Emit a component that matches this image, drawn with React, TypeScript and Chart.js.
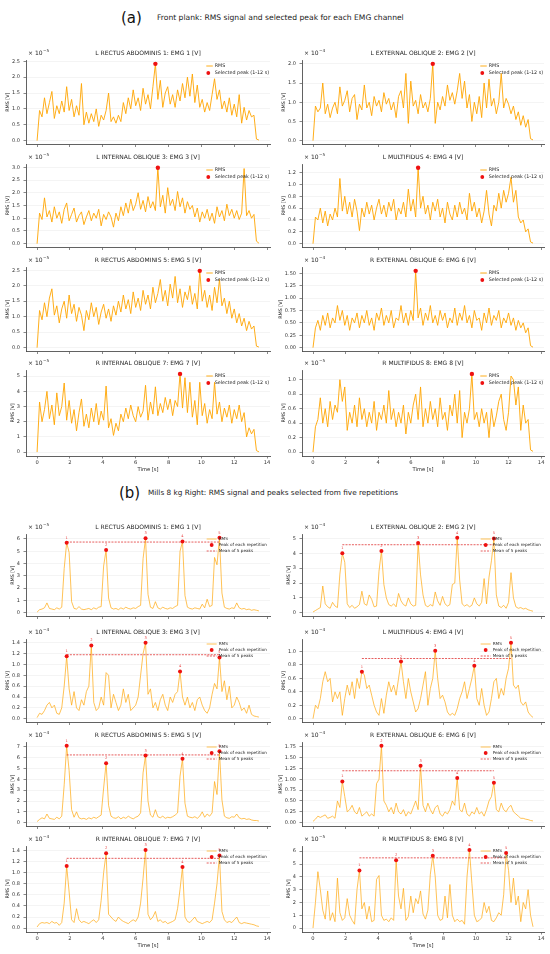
import { useEffect, useRef } from "react";
import { Chart, registerables } from "chart.js";
Chart.register(...registerables);

const FONT = "'DejaVu Sans', sans-serif";
const AX = "#3a3a3a";

// shared time axis of every trace [s]
const TIME = [
  0, 0.15, 0.3, 0.45, 0.6, 0.75, 0.9, 1.05, 1.2, 1.35,
  1.5, 1.65, 1.8, 1.95, 2.1, 2.25, 2.4, 2.55, 2.7, 2.85,
  3, 3.15, 3.3, 3.45, 3.6, 3.75, 3.9, 4.05, 4.2, 4.35,
  4.5, 4.65, 4.8, 4.95, 5.1, 5.25, 5.4, 5.55, 5.7, 5.85,
  6, 6.15, 6.3, 6.45, 6.6, 6.75, 6.9, 7.05, 7.2, 7.35,
  7.5, 7.65, 7.8, 7.95, 8.1, 8.25, 8.4, 8.55, 8.7, 8.85,
  9, 9.15, 9.3, 9.45, 9.6, 9.75, 9.9, 10.05, 10.2, 10.35,
  10.5, 10.65, 10.8, 10.95, 11.1, 11.25, 11.4, 11.55, 11.7, 11.85,
  12, 12.15, 12.3, 12.45, 12.6, 12.75, 12.9, 13.05, 13.2, 13.35,
  13.5,
];
const X_TICKS = [0, 2, 4, 6, 8, 10, 12, 14];

const CHANNELS = [
  "L RECTUS ABDOMINIS 1: EMG 1 [V]",
  "L EXTERNAL OBLIQUE 2: EMG 2 [V]",
  "L INTERNAL OBLIQUE 3: EMG 3 [V]",
  "L MULTIFIDUS 4: EMG 4 [V]",
  "R RECTUS ABDOMINIS 5: EMG 5 [V]",
  "R EXTERNAL OBLIQUE 6: EMG 6 [V]",
  "R INTERNAL OBLIQUE 7: EMG 7 [V]",
  "R MULTIFIDUS 8: EMG 8 [V]",
];

// ---- (a) front plank, values in units of 10^exp V
const A_EXP = [-5, -4, -5, -5, -5, -4, -5, -5];
const A_EMG1 = [
  0.00, 0.95, 0.75, 1.35, 0.85, 1.20, 1.55, 0.70, 1.10, 0.85,
  1.25, 0.90, 1.70, 0.95, 1.30, 0.75, 1.10, 0.80, 1.80, 0.50,
  0.90, 0.55, 0.85, 0.60, 1.00, 0.45, 0.80, 0.65, 0.95, 1.50,
  0.60, 0.75, 0.55, 0.80, 0.60, 1.20, 0.85, 1.35, 1.00, 1.60,
  1.10, 1.35, 0.95, 1.65, 1.15, 1.45, 1.00, 1.70, 2.42, 1.30,
  1.90, 1.05, 1.50, 1.70, 1.15, 1.45, 1.05, 1.60, 1.25, 1.80,
  1.35, 2.00, 1.40, 2.10, 1.20, 1.75, 1.05, 1.30, 0.90, 1.20,
  0.95, 1.45, 1.95, 1.30, 1.60, 1.00, 1.25, 0.90, 1.35, 0.80,
  1.15, 0.75, 1.45, 0.55, 1.05, 0.65, 0.95, 0.75, 0.80, 0.05,
  0.02,
];
const A_EMG2 = [
  0.00, 0.90, 0.75, 0.85, 1.50, 0.70, 0.95, 0.60, 0.85, 1.00,
  0.70, 1.40, 0.90, 1.05, 1.30, 0.75, 1.10, 1.20, 0.55, 0.95,
  0.80, 1.45, 0.85, 1.00, 0.65, 1.15, 0.90, 1.05, 0.75, 1.25,
  0.95, 1.10, 0.80, 1.00, 0.60, 1.15, 1.30, 0.85, 1.75, 0.45,
  1.55, 0.90, 1.05, 0.70, 1.20, 0.85, 1.00, 0.75, 1.10, 2.00,
  0.45, 1.00, 0.80, 1.15, 0.90, 1.45, 1.05, 1.25, 0.95, 1.30,
  1.75, 1.10, 1.55, 0.85, 1.20, 0.50, 1.00, 0.70, 1.15, 0.60,
  1.50, 0.85, 1.60, 0.90, 1.10, 0.70, 1.00, 1.75, 0.85, 1.10,
  0.95, 0.70, 0.90, 0.55, 0.75, 0.40, 0.65, 0.35, 0.55, 0.05,
  0.02,
];
const A_EMG3 = [
  0.00, 1.20, 0.95, 1.80, 1.05, 1.30, 0.85, 1.45, 1.00, 1.25,
  0.80, 1.35, 1.60, 0.90, 1.15, 1.40, 0.85, 1.10, 1.25, 0.75,
  1.05, 1.30, 0.90, 1.20, 1.00, 1.35, 0.70, 1.15, 0.95, 1.25,
  1.05, 0.65, 1.20, 0.90, 1.45, 1.10, 1.60, 1.20, 1.75, 1.30,
  1.55, 2.00, 1.35, 1.70, 1.25, 1.85, 1.40, 1.65, 1.30, 2.98,
  1.45, 1.90, 1.20, 2.20, 1.50, 1.75, 1.30, 2.05, 1.45, 1.80,
  1.20, 1.65, 1.35, 1.50, 1.05, 1.40, 0.85, 1.25, 1.00, 1.35,
  0.90, 1.20, 0.80, 1.45, 1.05, 1.30, 0.90, 1.55, 1.10, 1.35,
  1.00, 1.30, 0.95, 1.20, 2.95, 1.10, 1.30, 1.00, 1.15, 0.10,
  0.02,
];
const A_EMG4 = [
  0.00, 0.45, 0.40, 0.60, 0.35, 0.55, 0.30, 0.50, 0.40, 0.60,
  0.45, 1.10, 0.55, 0.80, 0.50, 0.70, 0.45, 0.75, 0.55, 0.22,
  0.60, 0.45, 0.70, 0.50, 0.65, 0.40, 0.60, 0.75, 0.50, 0.65,
  0.45, 0.70, 0.55, 0.75, 0.40, 0.60, 0.50, 0.70, 0.45, 0.92,
  0.55, 0.75, 0.45, 1.28, 0.60, 0.80, 0.50, 0.65, 0.40, 0.70,
  0.55, 0.75, 0.45, 0.60, 0.35, 0.70, 0.50, 0.40, 0.65, 0.45,
  0.70, 0.50, 0.60, 0.40, 0.85, 0.55, 0.70, 0.45, 0.60, 0.35,
  0.55, 0.90, 0.50, 0.30, 0.65, 0.55, 0.85, 0.60, 0.90, 0.70,
  0.85, 1.12, 0.70, 0.90, 0.45, 0.35, 0.40, 0.20, 0.25, 0.03,
  0.01,
];
const A_EMG5 = [
  0.00, 1.20, 0.90, 1.45, 1.00, 1.60, 1.90, 1.05, 1.35, 0.80,
  1.25, 1.50, 0.95, 1.70, 1.10, 1.40, 0.85, 1.30, 1.05, 0.55,
  1.20, 0.90, 1.45, 1.00, 1.30, 0.75, 1.15, 1.40, 0.95, 1.25,
  0.85, 1.35, 1.05, 1.50, 1.15, 1.70, 1.25, 1.55, 1.10, 1.80,
  1.30, 1.60, 1.20, 1.85, 1.40, 1.70, 1.25, 1.95, 1.45, 1.75,
  2.20, 1.50, 1.85, 1.35, 2.05, 1.60, 2.30, 1.45, 1.90, 1.30,
  1.80, 1.55, 2.00, 1.40, 1.75, 1.25, 2.48, 1.50, 1.85, 1.30,
  1.70, 1.20, 1.95, 1.45, 2.20, 1.35, 1.60, 1.10, 1.50, 0.95,
  1.25, 0.80, 1.10, 0.70, 0.95, 0.55, 0.85, 0.60, 0.70, 0.05,
  0.02,
];
const A_EMG6 = [
  0.00, 0.40, 0.55, 0.35, 0.65, 0.45, 0.70, 0.40, 0.60, 0.50,
  0.85, 0.55, 0.75, 0.45, 0.65, 0.35, 0.60, 0.50, 0.70, 0.40,
  0.65, 0.50, 0.75, 0.45, 0.60, 0.35, 0.70, 0.55, 0.80, 0.45,
  0.65, 0.50, 0.75, 0.40, 0.60, 0.55, 0.85, 0.50, 0.70, 0.45,
  0.75, 0.55, 1.55, 0.60, 0.80, 0.45, 0.70, 0.55, 0.85, 0.50,
  0.65, 0.45, 0.75, 0.55, 0.70, 0.40, 0.60, 0.50, 0.80, 0.45,
  0.70, 0.55, 0.85, 0.50, 0.65, 0.40, 0.75, 0.55, 0.60, 0.35,
  0.70, 0.50, 0.80, 0.45, 0.65, 0.55, 0.75, 0.40, 0.60, 0.50,
  0.70, 0.45, 0.60, 0.35, 0.55, 0.40, 0.50, 0.30, 0.40, 0.04,
  0.01,
];
const A_EMG7 = [
  0.00, 3.30, 2.00, 2.80, 4.00, 2.20, 3.10, 1.80, 3.90, 2.40,
  3.00, 4.55, 2.10, 3.40, 1.90, 2.80, 1.40, 2.60, 3.50, 1.70,
  2.50, 1.60, 2.90, 2.00, 3.20, 1.80, 2.70, 2.10, 4.35, 1.60,
  2.20, 1.10, 1.90, 1.40, 2.50, 2.00, 2.90, 2.20, 3.10, 2.40,
  2.00, 3.00, 2.30, 2.70, 4.40, 2.10, 3.30, 2.50, 4.30, 2.40,
  3.20, 2.60, 3.60, 2.80, 3.50, 2.40, 3.40, 3.00, 5.15, 2.90,
  4.90, 2.60, 4.60, 2.30, 3.40, 1.80, 4.60, 2.40, 3.20, 1.90,
  2.80, 2.20, 4.60, 2.50, 3.30, 2.00, 2.90, 2.30, 3.10, 1.90,
  2.80, 2.20, 3.10, 2.00, 2.60, 1.00, 1.60, 1.20, 1.50, 0.10,
  0.02,
];
const A_EMG8 = [
  0.00, 0.35, 0.45, 0.75, 0.40, 0.60, 0.35, 0.70, 0.45, 0.65,
  0.55, 1.00, 0.70, 0.90, 0.30, 0.55, 0.40, 0.65, 0.35, 0.75,
  0.45, 0.60, 0.35, 0.55, 0.40, 0.70, 0.30, 0.55, 0.45, 0.65,
  0.40, 0.85, 0.45, 0.60, 0.35, 0.55, 0.40, 0.65, 0.25, 0.55,
  0.40, 0.65, 0.80, 0.45, 0.90, 0.35, 0.60, 0.40, 0.70, 0.45,
  0.60, 0.35, 0.75, 0.45, 0.55, 0.30, 0.65, 0.50, 0.80, 0.40,
  0.85, 0.20, 0.55, 0.40, 0.60, 1.08, 0.45, 0.55, 0.35, 0.60,
  0.40, 0.55, 0.20, 0.60, 0.35, 0.50, 0.70, 0.80, 0.45, 0.30,
  0.55, 1.05, 1.00, 0.65, 0.90, 0.30, 0.65, 0.40, 0.45, 0.03,
  0.01,
];
const A_PEAK_T = [7.2, 7.35, 7.35, 6.45, 9.9, 6.3, 8.7, 9.75];
const A_PEAK_V = [2.42, 2.0, 2.98, 1.28, 2.48, 1.55, 5.15, 1.08];
const A_YTICKS = [
  [0, 0.5, 1, 1.5, 2, 2.5],
  [0, 0.5, 1, 1.5, 2],
  [0, 0.5, 1, 1.5, 2, 2.5, 3],
  [0, 0.2, 0.4, 0.6, 0.8, 1, 1.2],
  [0, 0.5, 1, 1.5, 2, 2.5],
  [0, 0.25, 0.5, 0.75, 1, 1.25, 1.5],
  [0, 1, 2, 3, 4, 5],
  [0, 0.2, 0.4, 0.6, 0.8, 1],
];
const A_YDEC = [1, 1, 1, 1, 1, 2, 0, 1];

// ---- (b) Mills 8 kg right
const B_EXP = [-5, -4, -4, -4, -4, -4, -4, -5];
const B_EMG1 = [
  0.05, 0.25, 0.30, 0.40, 0.80, 0.35, 0.30, 0.25, 0.40, 0.30,
  0.45, 3.60, 5.70, 4.90, 0.90, 0.35, 0.30, 0.50, 0.30, 0.25,
  0.30, 0.35, 0.25, 0.40, 0.30, 0.45, 0.50, 3.80, 5.10, 1.20,
  0.40, 0.30, 0.35, 0.25, 0.40, 0.30, 0.45, 0.35, 0.30, 0.40,
  0.35, 0.50, 0.60, 4.40, 6.05, 1.50, 0.45, 0.35, 0.90, 0.40,
  0.30, 0.45, 0.35, 0.30, 0.40, 0.35, 0.50, 0.60, 5.00, 5.80,
  1.40, 0.45, 0.35, 0.30, 0.40, 0.35, 0.30, 0.70, 0.40, 1.10,
  0.50, 0.60, 4.50, 3.90, 6.10, 1.60, 0.45, 0.35, 0.30, 0.40,
  0.35, 0.80, 0.40, 0.30, 0.35, 0.25, 0.30, 0.20, 0.25, 0.20,
  0.15,
];
const B_EMG2 = [
  0.05, 0.15, 0.25, 0.35, 1.80, 0.60, 0.40, 0.30, 0.70, 0.45,
  0.35, 2.60, 4.00, 3.40, 0.60, 0.35, 0.50, 0.30, 0.40, 0.55,
  1.45, 0.60, 0.50, 1.20, 0.90, 0.40, 0.45, 2.80, 4.15, 1.90,
  1.00, 0.55, 0.45, 0.60, 0.40, 1.30, 0.80, 0.55, 0.45, 1.00,
  0.60, 0.45, 0.50, 4.70, 2.55, 1.20, 0.50, 0.40, 0.55, 0.45,
  1.40, 0.80, 0.50, 1.10, 0.60, 0.45, 0.55, 1.90, 2.00, 5.05,
  2.20, 0.60, 0.45, 0.55, 0.40, 0.50, 1.00, 0.60, 0.45, 0.70,
  2.30, 0.60, 2.40, 3.50, 5.00, 1.20, 0.45, 0.35, 0.50, 0.30,
  0.70, 2.70, 1.00, 0.40, 0.30, 0.35, 0.25, 0.30, 0.20, 0.15,
  0.10,
];
const B_EMG3 = [
  0.02, 0.10, 0.08, 0.15, 0.25, 0.30, 0.20, 0.25, 0.10, 0.08,
  0.20, 0.60, 1.15, 0.55, 0.25, 0.50, 0.20, 0.15, 0.35, 0.25,
  0.50, 0.60, 1.35, 0.30, 0.15, 0.20, 0.40, 0.25, 0.85, 0.80,
  0.20, 0.45, 0.30, 0.15, 0.25, 0.55, 0.30, 0.45, 0.15, 0.20,
  0.25, 0.40, 0.80, 1.20, 1.40, 0.45, 0.55, 0.20, 0.30, 0.15,
  0.35, 0.45, 0.25, 0.15, 0.40, 0.30, 0.45, 0.50, 0.87, 0.40,
  0.25, 0.40, 0.20, 0.30, 0.15, 0.35, 0.40, 0.25, 0.15, 0.10,
  0.20, 0.45, 0.65, 0.55, 1.13, 0.50, 0.70, 0.35, 0.60, 0.20,
  0.25, 0.40, 0.30, 0.15, 0.20, 0.10, 0.25, 0.08, 0.05, 0.04,
  0.03,
];
const B_EMG4 = [
  0.00, 0.20, 0.15, 0.30, 0.55, 0.70, 0.55, 0.60, 0.25, 0.40,
  0.30, 0.40, 0.05, 0.30, 0.50, 0.35, 0.55, 0.30, 0.60, 0.45,
  0.70, 0.65, 0.45, 0.50, 0.35, 0.20, 0.10, 0.05, 0.30, 0.08,
  0.35, 0.55, 0.40, 0.50, 0.35, 0.60, 0.85, 0.55, 0.30, 0.60,
  0.40, 0.25, 0.10, 0.15, 0.30, 0.50, 0.70, 0.20, 0.45, 0.60,
  1.01, 0.60, 0.30, 0.35, 0.25, 0.10, 0.05, 0.08, 0.05, 0.15,
  0.30, 0.40, 0.55, 0.30, 0.45, 0.60, 0.79, 0.30, 0.20, 0.45,
  0.20, 0.05, 0.10, 0.30, 0.55, 0.60, 0.30, 0.45, 0.35, 0.60,
  0.75, 1.13, 0.50, 0.45, 0.50, 0.25, 0.20, 0.25, 0.10, 0.05,
  0.02,
];
const B_EMG5 = [
  0.10, 0.30, 0.45, 0.35, 0.80, 0.40, 0.35, 0.30, 0.50, 0.35,
  0.60, 3.50, 7.10, 4.80, 1.20, 0.50, 1.00, 0.45, 0.35, 0.40,
  0.30, 0.45, 0.35, 0.50, 0.40, 0.55, 0.70, 3.20, 5.50, 1.60,
  0.60, 0.45, 0.40, 0.55, 0.35, 0.50, 0.40, 0.60, 0.45, 0.35,
  0.50, 0.60, 0.90, 4.60, 6.20, 2.00, 0.70, 0.50, 1.20, 0.55,
  0.45, 0.60, 0.40, 0.50, 0.45, 0.55, 0.70, 0.90, 4.30, 5.90,
  1.80, 0.60, 0.50, 0.45, 0.55, 0.40, 0.60, 1.00, 0.50, 0.80,
  0.60, 0.90, 3.80, 2.60, 6.60, 2.10, 0.60, 0.45, 0.40, 0.55,
  0.50, 0.80, 0.45, 0.35, 0.40, 0.30, 0.35, 0.25, 0.20, 0.20,
  0.15,
];
const B_EMG6 = [
  0.03, 0.08, 0.15, 0.12, 0.15, 0.18, 0.10, 0.12, 0.15, 0.10,
  0.50, 0.35, 0.95, 0.60, 0.25, 0.30, 0.40, 0.25, 0.20, 0.35,
  0.15, 0.20, 0.25, 0.15, 0.20, 0.15, 0.90, 1.00, 1.77, 0.50,
  0.40, 0.25, 0.35, 0.20, 0.45, 0.25, 0.20, 0.30, 0.15, 0.25,
  0.20, 0.35, 0.50, 0.30, 1.31, 0.40, 0.25, 0.45, 0.30, 0.20,
  0.35, 0.40, 0.20, 0.15, 0.25, 0.20, 0.30, 0.50, 0.40, 1.03,
  0.30, 0.25, 0.45, 0.20, 0.15, 0.25, 0.20, 0.35, 0.20, 0.25,
  0.15, 0.30, 0.50, 0.60, 0.92, 0.30, 0.25, 0.45, 0.30, 0.25,
  0.35, 0.40, 0.25, 0.20, 0.15, 0.10, 0.10, 0.08, 0.07, 0.05,
  0.04,
];
const B_EMG7 = [
  0.02, 0.08, 0.10, 0.09, 0.10, 0.08, 0.12, 0.09, 0.10, 0.05,
  0.10, 0.45, 1.12, 0.65, 0.15, 0.10, 0.35, 0.15, 0.10, 0.12,
  0.10, 0.08, 0.12, 0.15, 0.10, 0.15, 0.50, 1.00, 1.35, 0.25,
  0.20, 0.15, 0.12, 0.20, 0.15, 0.12, 0.10, 0.08, 0.12, 0.15,
  0.12, 0.20, 0.45, 0.90, 1.41, 0.25, 0.15, 0.20, 0.30, 0.12,
  0.15, 0.10, 0.12, 0.08, 0.10, 0.12, 0.15, 0.35, 0.70, 1.10,
  0.20, 0.12, 0.10, 0.15, 0.20, 0.12, 0.10, 0.08, 0.10, 0.12,
  0.10, 0.15, 0.45, 0.80, 1.31, 0.30, 0.15, 0.10, 0.12, 0.10,
  0.15, 0.20, 0.10, 0.08, 0.10, 0.09, 0.08, 0.07, 0.06, 0.04,
  0.03,
];
const B_EMG8 = [
  0.00, 2.00, 4.40, 3.00, 1.40, 0.70, 2.90, 0.60, 1.20, 0.50,
  3.90, 1.20, 0.60, 0.80, 2.30, 1.00, 0.60, 0.30, 3.00, 4.50,
  1.50, 2.00, 0.70, 1.70, 0.50, 0.60, 3.80, 4.10, 1.00, 0.60,
  0.70, 0.50, 0.80, 0.60, 5.30, 2.50, 1.50, 3.10, 0.60, 0.90,
  2.50, 1.20, 2.30, 1.90, 2.90, 1.10, 0.70, 1.40, 4.20, 5.65,
  4.00, 1.00, 0.60, 0.70, 2.50, 0.80, 3.40, 1.00, 0.50, 0.70,
  0.50, 0.60, 0.30, 4.00, 6.10, 3.50, 1.00, 0.50, 0.60, 0.80,
  2.00, 1.20, 1.70, 0.60, 0.50, 0.80, 1.20, 1.00, 2.60, 5.85,
  4.50, 2.00, 3.90, 1.80, 2.50, 0.50, 2.00, 1.50, 3.00, 1.00,
  0.10,
];
const B_PEAK_T = [
  [1.8, 4.2, 6.6, 8.85, 11.1],
  [1.8, 4.2, 6.45, 8.85, 11.1],
  [1.8, 3.3, 6.6, 8.7, 11.1],
  [3.0, 5.4, 7.5, 9.9, 12.15],
  [1.8, 4.2, 6.6, 8.85, 11.1],
  [1.8, 4.2, 6.6, 8.85, 11.1],
  [1.8, 4.2, 6.6, 8.85, 11.1],
  [2.85, 5.1, 7.35, 9.6, 11.85],
];
const B_PEAK_V = [
  [5.7, 5.1, 6.05, 5.8, 6.1],
  [4.0, 4.15, 4.7, 5.05, 5.0],
  [1.15, 1.35, 1.4, 0.87, 1.13],
  [0.7, 0.85, 1.01, 0.79, 1.13],
  [7.1, 5.5, 6.2, 5.9, 6.6],
  [0.95, 1.77, 1.31, 1.03, 0.92],
  [1.12, 1.35, 1.41, 1.1, 1.31],
  [4.5, 5.3, 5.65, 6.1, 5.85],
];
const B_YTICKS = [
  [0, 1, 2, 3, 4, 5, 6],
  [0, 1, 2, 3, 4, 5],
  [0, 0.2, 0.4, 0.6, 0.8, 1, 1.2, 1.4],
  [0, 0.2, 0.4, 0.6, 0.8, 1],
  [0, 1, 2, 3, 4, 5, 6, 7],
  [0, 0.25, 0.5, 0.75, 1, 1.25, 1.5, 1.75],
  [0, 0.2, 0.4, 0.6, 0.8, 1, 1.2, 1.4],
  [0, 1, 2, 3, 4, 5, 6],
];
const B_YDEC = [0, 0, 1, 1, 0, 2, 1, 0];

// plot-area rows in page pixels
const ROWS: any = {
  a: { top: [60, 164, 267, 370], bottom: [146, 249, 353, 456] },
  b: { top: [534, 639, 742, 846], bottom: [618, 724, 828, 932] },
};
const PAD_TOP = 12;

type Spec = {
  id: string;
  panel: "a" | "b";
  ch: number;
  values: number[];
  peakT: number[];
  peakV: number[];
  exp: number;
  yTicks: number[];
  yDec: number;
};

const A_SERIES = [A_EMG1, A_EMG2, A_EMG3, A_EMG4, A_EMG5, A_EMG6, A_EMG7, A_EMG8];
const B_SERIES = [B_EMG1, B_EMG2, B_EMG3, B_EMG4, B_EMG5, B_EMG6, B_EMG7, B_EMG8];

const SPECS: Spec[] = [
  ...A_SERIES.map((values, i) => ({
    id: "a" + i, panel: "a" as const, ch: i, values,
    peakT: [A_PEAK_T[i]], peakV: [A_PEAK_V[i]],
    exp: A_EXP[i], yTicks: A_YTICKS[i], yDec: A_YDEC[i],
  })),
  ...B_SERIES.map((values, i) => ({
    id: "b" + i, panel: "b" as const, ch: i, values,
    peakT: B_PEAK_T[i], peakV: B_PEAK_V[i],
    exp: B_EXP[i], yTicks: B_YTICKS[i], yDec: B_YDEC[i],
  })),
];

function boxOf(s: Spec) {
  const row = Math.floor(s.ch / 2);
  const col = s.ch % 2;
  const top = ROWS[s.panel].top[row];
  const bottom = ROWS[s.panel].bottom[row];
  const last = row === 3;
  const xH = last ? 17 : 4;
  return {
    col, last, xH,
    left: col ? 275 : 0,
    top: top - PAD_TOP,
    h: bottom - top + PAD_TOP + xH + 1,
    yW: col ? 27 : 26,
    padR: col ? 6 : 5,
  };
}

const decor = {
  id: "decor",
  afterDatasetsDraw(chart: any, _args: any, o: any) {
    const { ctx, chartArea: a, scales } = chart;
    ctx.save();
    ctx.fillStyle = "#262626";
    ctx.textBaseline = "middle";
    ctx.textAlign = "center";
    ctx.font = `6px ${FONT}`;
    ctx.fillText(o.title, (a.left + a.right) / 2, a.top - 6.5);

    // axis multiplier
    ctx.textAlign = "left";
    const base = "\u00d7 10";
    ctx.fillText(base, a.left + 2, a.top - 7);
    const bw = ctx.measureText(base).width;
    ctx.font = `4.2px ${FONT}`;
    ctx.fillText("\u2212" + Math.abs(o.exp), a.left + 2.4 + bw, a.top - 9.2);

    // legend
    const isA = o.panel === "a";
    const items = isA
      ? [["line", "RMS"], ["dot", "Selected peak (1-12 s)"]]
      : [["line", "RMS"], ["dot", "Peak of each repetition"], ["dash", "Mean of 5 peaks"]];
    const fs = isA ? 4.8 : 4.2;
    ctx.font = `${fs}px ${FONT}`;
    const maxW = Math.max(...items.map((it) => ctx.measureText(it[1]).width));
    const tx = a.right - (isA ? 1 : 3) - maxW;
    items.forEach((it, i) => {
      const y = a.top + (isA ? 6 + 7 * i : 5 + 6 * i);
      const x0 = tx - (isA ? 8.5 : 12);
      if (it[0] === "line") {
        ctx.strokeStyle = o.lineColor;
        ctx.lineWidth = 0.9;
        ctx.setLineDash([]);
        ctx.beginPath(); ctx.moveTo(x0, y); ctx.lineTo(tx - 2, y); ctx.stroke();
      } else if (it[0] === "dot") {
        ctx.fillStyle = "#ee1111";
        ctx.beginPath(); ctx.arc(tx - (isA ? 6.5 : 7), y, 1.9, 0, Math.PI * 2); ctx.fill();
      } else {
        ctx.strokeStyle = "rgba(220,30,30,0.9)";
        ctx.lineWidth = 0.8;
        ctx.setLineDash([2, 1.2]);
        ctx.beginPath(); ctx.moveTo(x0, y); ctx.lineTo(tx - 2, y); ctx.stroke();
        ctx.setLineDash([]);
      }
      ctx.fillStyle = "#262626";
      ctx.fillText(it[1], tx, y);
    });

    // repetition numbers above each peak
    if (!isA) {
      ctx.fillStyle = "rgba(230,40,40,0.9)";
      ctx.font = `3.6px ${FONT}`;
      ctx.textAlign = "center";
      chart.data.datasets[0].data.forEach((p: any, i: number) => {
        ctx.fillText(String(i + 1), scales.x.getPixelForValue(p.x), scales.y.getPixelForValue(p.y) - 5);
      });
    }
    ctx.restore();
  },
};

function makeConfig(s: Spec): any {
  const b = boxOf(s);
  const ymaxData = Math.max(...s.values, ...s.peakV);
  const lineColor = s.panel === "a" ? "#ffa500" : "rgba(255,170,20,0.8)";
  const labW = Math.max(
    ...s.yTicks.map((v) => {
      let w = 0;
      for (const c of v.toFixed(s.yDec)) w += c === "." ? 1.59 : 3.18;
      return w;
    })
  );
  const yTitlePad = Math.max(0, b.yW - 10.5 - labW - 2.88);

  const datasets: any[] = [
    {
      label: "peaks",
      data: s.peakT.map((t, i) => ({ x: t, y: s.peakV[i] })),
      showLine: false,
      pointRadius: s.panel === "a" ? 2.2 : 2,
      pointBackgroundColor: "#ee1111",
      pointBorderWidth: 0,
      order: 0,
    },
    {
      label: "RMS",
      data: TIME.map((t, i) => ({ x: t, y: s.values[i] })),
      borderColor: lineColor,
      borderWidth: 0.9,
      pointRadius: 0,
      tension: 0,
      order: 3,
    },
  ];
  if (s.panel === "b") {
    const mean = s.peakV.reduce((acc, v) => acc + v, 0) / s.peakV.length;
    datasets.push({
      label: "Mean of 5 peaks",
      data: [
        { x: s.peakT[0], y: mean },
        { x: s.peakT[s.peakT.length - 1], y: mean },
      ],
      borderColor: "rgba(220,30,30,0.9)",
      borderWidth: 0.8,
      borderDash: [2, 1.2],
      pointRadius: 0,
      order: 1,
    });
  }

  return {
    type: "line",
    data: { datasets },
    plugins: [decor],
    options: {
      responsive: false,
      animation: false,
      events: [],
      layout: { padding: { top: PAD_TOP, bottom: 1, left: 0, right: b.padR } },
      scales: {
        x: {
          type: "linear",
          min: -0.675,
          max: 14.175,
          afterBuildTicks: (sc: any) => {
            sc.ticks = X_TICKS.map((v) => ({ value: v }));
          },
          afterFit: (sc: any) => {
            sc.height = b.xH;
          },
          grid: { display: true, drawOnChartArea: false, drawTicks: true, tickLength: 2.5, tickColor: AX, tickWidth: 0.6 },
          border: { display: true, color: AX, width: 0.8 },
          ticks: {
            display: b.last,
            font: { family: FONT, size: 5.2 },
            color: "#333",
            padding: 1,
            maxRotation: 0,
            autoSkip: false,
            callback: (v: any) => String(v),
          },
          title: {
            display: b.last,
            text: "Time [s]",
            font: { family: FONT, size: 5.2 },
            color: "#262626",
            padding: { top: 0, bottom: 0 },
          },
        },
        y: {
          type: "linear",
          min: -0.05 * ymaxData,
          max: 1.05 * ymaxData,
          afterBuildTicks: (sc: any) => {
            sc.ticks = s.yTicks.map((v) => ({ value: v }));
          },
          afterFit: (sc: any) => {
            sc.width = b.yW;
          },
          grid: { color: "rgba(0,0,0,0.08)", lineWidth: 0.6, drawTicks: true, tickLength: 2.5, tickColor: AX, tickWidth: 0.6 },
          border: { display: true, color: AX, width: 0.8 },
          ticks: {
            font: { family: FONT, size: 5 },
            color: "#333",
            padding: 3.5,
            autoSkip: false,
            callback: (v: any) => Number(v).toFixed(s.yDec),
          },
          title: {
            display: true,
            text: "RMS [V]",
            font: { family: FONT, size: 4.8 },
            color: "#262626",
            padding: { top: yTitlePad, bottom: 0 },
          },
        },
      },
      plugins: {
        legend: { display: false },
        tooltip: { enabled: false },
        title: { display: false },
        decor: { title: CHANNELS[s.ch], exp: s.exp, panel: s.panel, lineColor },
      },
    },
  };
}

function EmgChart({ spec }: { spec: Spec }) {
  const chartRef = useRef<HTMLCanvasElement | null>(null);
  const chartInstance = useRef<Chart | null>(null);
  const b = boxOf(spec);

  useEffect(() => {
    const ctx = chartRef.current?.getContext("2d");
    if (chartInstance.current) chartInstance.current.destroy();
    if (ctx) chartInstance.current = new Chart(ctx, makeConfig(spec));
    return () => {
      if (chartInstance.current) {
        chartInstance.current.destroy();
        chartInstance.current = null;
      }
    };
  }, [spec]);

  return (
    <canvas
      ref={chartRef}
      width={275}
      height={b.h}
      style={{ position: "absolute", left: b.left, top: b.top, width: 275, height: b.h }}
    />
  );
}

function Header({ tag, text, x, tx, y, fs }: { tag: string; text: string; x: number; tx: number; y: number; fs: number }) {
  return (
    <>
      <div style={{ position: "absolute", left: x, top: y - 8, fontFamily: FONT, fontSize: 15, lineHeight: "16px", color: "#111", whiteSpace: "nowrap" }}>
        {tag}
      </div>
      <div style={{ position: "absolute", left: tx, top: y - 5, fontFamily: FONT, fontSize: fs, lineHeight: "10px", color: "#222", whiteSpace: "nowrap" }}>
        {text}
      </div>
    </>
  );
}

export default function App() {
  return (
    <div style={{ position: "absolute", left: 0, top: 0, width: 550, height: 954, background: "#fff", overflow: "hidden" }}>
      <Header tag="(a)" text="Front plank: RMS signal and selected peak for each EMG channel" x={121} tx={157} y={17.5} fs={7.6} />
      <Header tag="(b)" text="Mills 8 kg Right: RMS signal and peaks selected from five repetitions" x={119} tx={148} y={493} fs={7.3} />
      {SPECS.map((s) => (
        <EmgChart key={s.id} spec={s} />
      ))}
    </div>
  );
}
